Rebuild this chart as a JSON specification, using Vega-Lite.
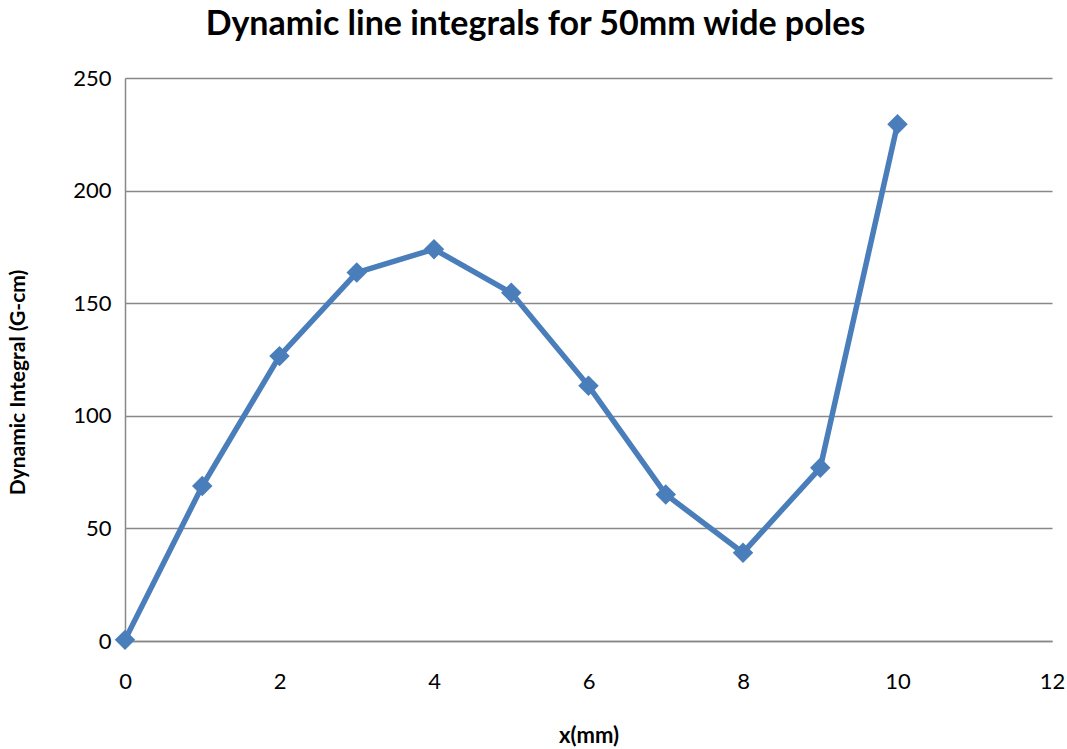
{
  "$schema": "https://vega.github.io/schema/vega-lite/v6.json",
  "width": 927,
  "height": 563,
  "autosize": "none",
  "padding": {"left": 125, "top": 78, "right": 15, "bottom": 108},
  "background": "white",
  "title": {
    "text": "Dynamic line integrals for 50mm wide poles",
    "font": "Lato",
    "fontSize": 34,
    "fontWeight": "bold",
    "color": "black",
    "anchor": "middle",
    "dx": -53,
    "offset": 25
  },
  "data": {
    "values": [
      {"x": 0, "y": 0.5},
      {"x": 1, "y": 68.8},
      {"x": 2, "y": 126.5},
      {"x": 3, "y": 163.6},
      {"x": 4, "y": 174},
      {"x": 5, "y": 154.6},
      {"x": 6, "y": 113.3},
      {"x": 7, "y": 65.1},
      {"x": 8, "y": 39.2},
      {"x": 9, "y": 76.9},
      {"x": 10, "y": 229.5}
    ]
  },
  "encoding": {
    "x": {
      "field": "x",
      "type": "quantitative",
      "scale": {"domain": [0, 12], "nice": false, "zero": false},
      "axis": {
        "title": "x(mm)",
        "values": [0, 2, 4, 6, 8, 10, 12],
        "grid": false,
        "ticks": false,
        "labelFlush": false,
        "domainColor": "#888888",
        "domainWidth": 1.5,
        "labelFont": "Lato",
        "labelFontSize": 22,
        "labelColor": "black",
        "labelPadding": 30,
        "titleFont": "Lato",
        "titleFontSize": 22,
        "titleFontWeight": "bold",
        "titleColor": "black",
        "titlePadding": 33
      }
    },
    "y": {
      "field": "y",
      "type": "quantitative",
      "scale": {"domain": [0, 250], "nice": false},
      "axis": {
        "title": "Dynamic Integral (G-cm)",
        "values": [0, 50, 100, 150, 200, 250],
        "grid": true,
        "gridColor": "#888888",
        "gridWidth": 1.5,
        "ticks": false,
        "domainColor": "#888888",
        "domainWidth": 1.5,
        "labelFont": "Lato",
        "labelFontSize": 22,
        "labelColor": "black",
        "labelPadding": 14,
        "titleFont": "Lato",
        "titleFontSize": 21,
        "titleFontWeight": "bold",
        "titleColor": "black",
        "titleX": -97,
        "titleY": 304
      }
    }
  },
  "layer": [
    {
      "mark": {"type": "line", "color": "#4a7ebb", "strokeWidth": 5.5}
    },
    {
      "mark": {"type": "point", "shape": "diamond", "filled": true, "opacity": 1, "size": 420, "color": "#4a7ebb"}
    }
  ],
  "config": {"view": {"stroke": null}}
}
